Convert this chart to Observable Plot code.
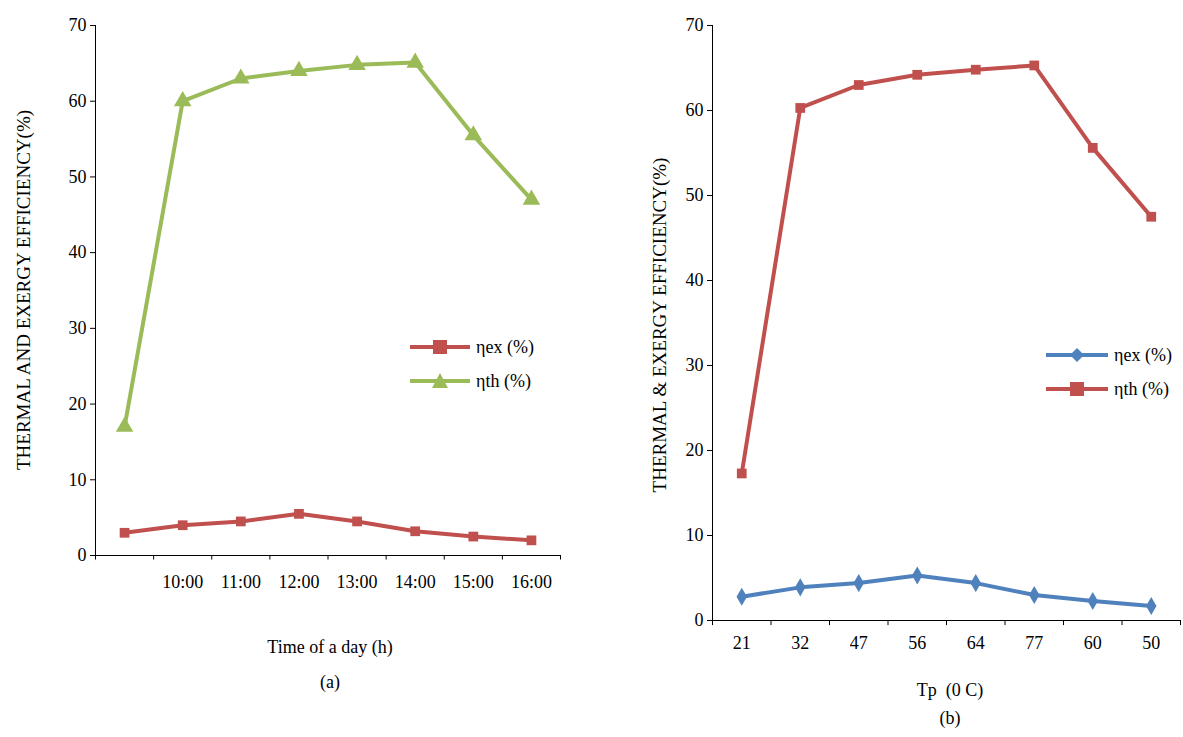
<!DOCTYPE html>
<html><head><meta charset="utf-8">
<script src="https://cdn.jsdelivr.net/npm/d3@7"></script>
<script src="https://cdn.jsdelivr.net/npm/@observablehq/plot@0.6"></script>
<style>
body{margin:0;background:#fff;font-family:"Liberation Serif",serif;}
#wrap{position:relative;width:1183px;height:737px;}
.pane{position:absolute;top:0;}
.cap{position:absolute;font-size:18px;text-align:center;color:#000;}
.ylab{position:absolute;font-size:19px;white-space:nowrap;transform:translate(-50%,-50%) rotate(-90deg);}
.leg{position:absolute;font-size:18px;white-space:nowrap;}
.leg div{display:flex;align-items:center;height:34px;}
.leg svg{margin-right:6px;}
</style></head><body>
<div id="wrap">
  <div class="pane" id="a" style="left:0"></div>
  <div class="pane" id="b" style="left:590px"></div>
  <div class="ylab" style="left:24px;top:290px">THERMAL AND EXERGY EFFICIENCY(%)</div>
  <div class="ylab" style="left:660px;top:325px">THERMAL &amp; EXERGY EFFICIENCY(%)</div>
  <div class="cap" style="left:200px;top:637px;width:260px">Time of a day (h)</div>
  <div class="cap" style="left:200px;top:672px;width:260px">(a)</div>
  <div class="cap" style="left:820px;top:680px;width:260px">Tp &nbsp;(0 C)</div>
  <div class="cap" style="left:820px;top:708px;width:260px">(b)</div>
  <div class="leg" style="left:410px;top:330px">
    <div><svg width="60" height="20"><line x1="0" x2="60" y1="10" y2="10" stroke="#C0504D" stroke-width="4"/><rect x="23" y="3" width="14" height="14" fill="#C0504D"/></svg>ηex (%)</div>
    <div><svg width="60" height="20"><line x1="0" x2="60" y1="10" y2="10" stroke="#9BBB59" stroke-width="4"/><path d="M30 2 L38 17 L22 17Z" fill="#9BBB59"/></svg>ηth (%)</div>
  </div>
  <div class="leg" style="left:1046px;top:338px">
    <div><svg width="62" height="20"><line x1="0" x2="62" y1="10" y2="10" stroke="#4F81BD" stroke-width="4"/><path d="M31 3 L38 10 L31 17 L24 10Z" fill="#4F81BD"/></svg>ηex (%)</div>
    <div><svg width="62" height="20"><line x1="0" x2="62" y1="10" y2="10" stroke="#C0504D" stroke-width="4"/><rect x="24" y="3" width="14" height="14" fill="#C0504D"/></svg>ηth (%)</div>
  </div>
</div>
<script>
const timeLabels = ["", "10:00", "11:00", "12:00", "13:00", "14:00", "15:00", "16:00"];
const thA = [17, 60, 63, 64, 64.8, 65.1, 55.5, 47];
const exA = [3, 4, 4.5, 5.5, 4.5, 3.2, 2.5, 2];
const tpLabels = ["21", "32", "47", "56", "64", "77", "60", "50"];
const thB = [17.3, 60.3, 63, 64.2, 64.8, 65.3, 55.6, 47.5];
const exB = [2.8, 3.9, 4.4, 5.3, 4.4, 3.0, 2.3, 1.7];

const idx = d3.range(8);

function panel(labels, series, opts) {
  const marks = [
    Plot.ruleY([0]),
    Plot.ruleX([-0.5], {y1: 0, y2: 70}),
    Plot.ruleX(d3.range(-0.5, 8, 1), {y1: 0, y2: -0.6})
  ];
  for (const s of series) {
    marks.push(Plot.line(idx, {x: d => d, y: d => s.v[d], stroke: s.c, strokeWidth: 4}));
    marks.push(Plot.dot(idx, {x: d => d, y: d => s.v[d], fill: s.c, symbol: s.sym, r: s.r}));
  }
  return Plot.plot({
    width: opts.width, height: opts.height,
    marginLeft: opts.ml, marginRight: opts.mr, marginTop: 25, marginBottom: opts.mb,
    style: {fontFamily: "Liberation Serif", fontSize: "18px", color: "#000"},
    x: {domain: [-0.5, 7.5], ticks: idx, tickFormat: i => labels[i], tickSize: 0, tickPadding: opts.tp, label: null},
    y: {domain: [0, 70], ticks: d3.range(0, 71, 10), tickSize: 5, label: null},
    marks
  });
}

document.getElementById("a").append(panel(timeLabels, [
  {v: exA, c: "#C0504D", sym: "square", r: 5.5},
  {v: thA, c: "#9BBB59", sym: "triangle", r: 6.5}
], {width: 590, height: 600, ml: 95, mr: 30, mb: 45, tp: 20}));

document.getElementById("b").append(panel(tpLabels, [
  {v: exB, c: "#4F81BD", sym: "diamond", r: 5.5},
  {v: thB, c: "#C0504D", sym: "square", r: 5.5}
], {width: 593, height: 660, ml: 122, mr: 3, mb: 40, tp: 16}));
</script>
</body></html>
